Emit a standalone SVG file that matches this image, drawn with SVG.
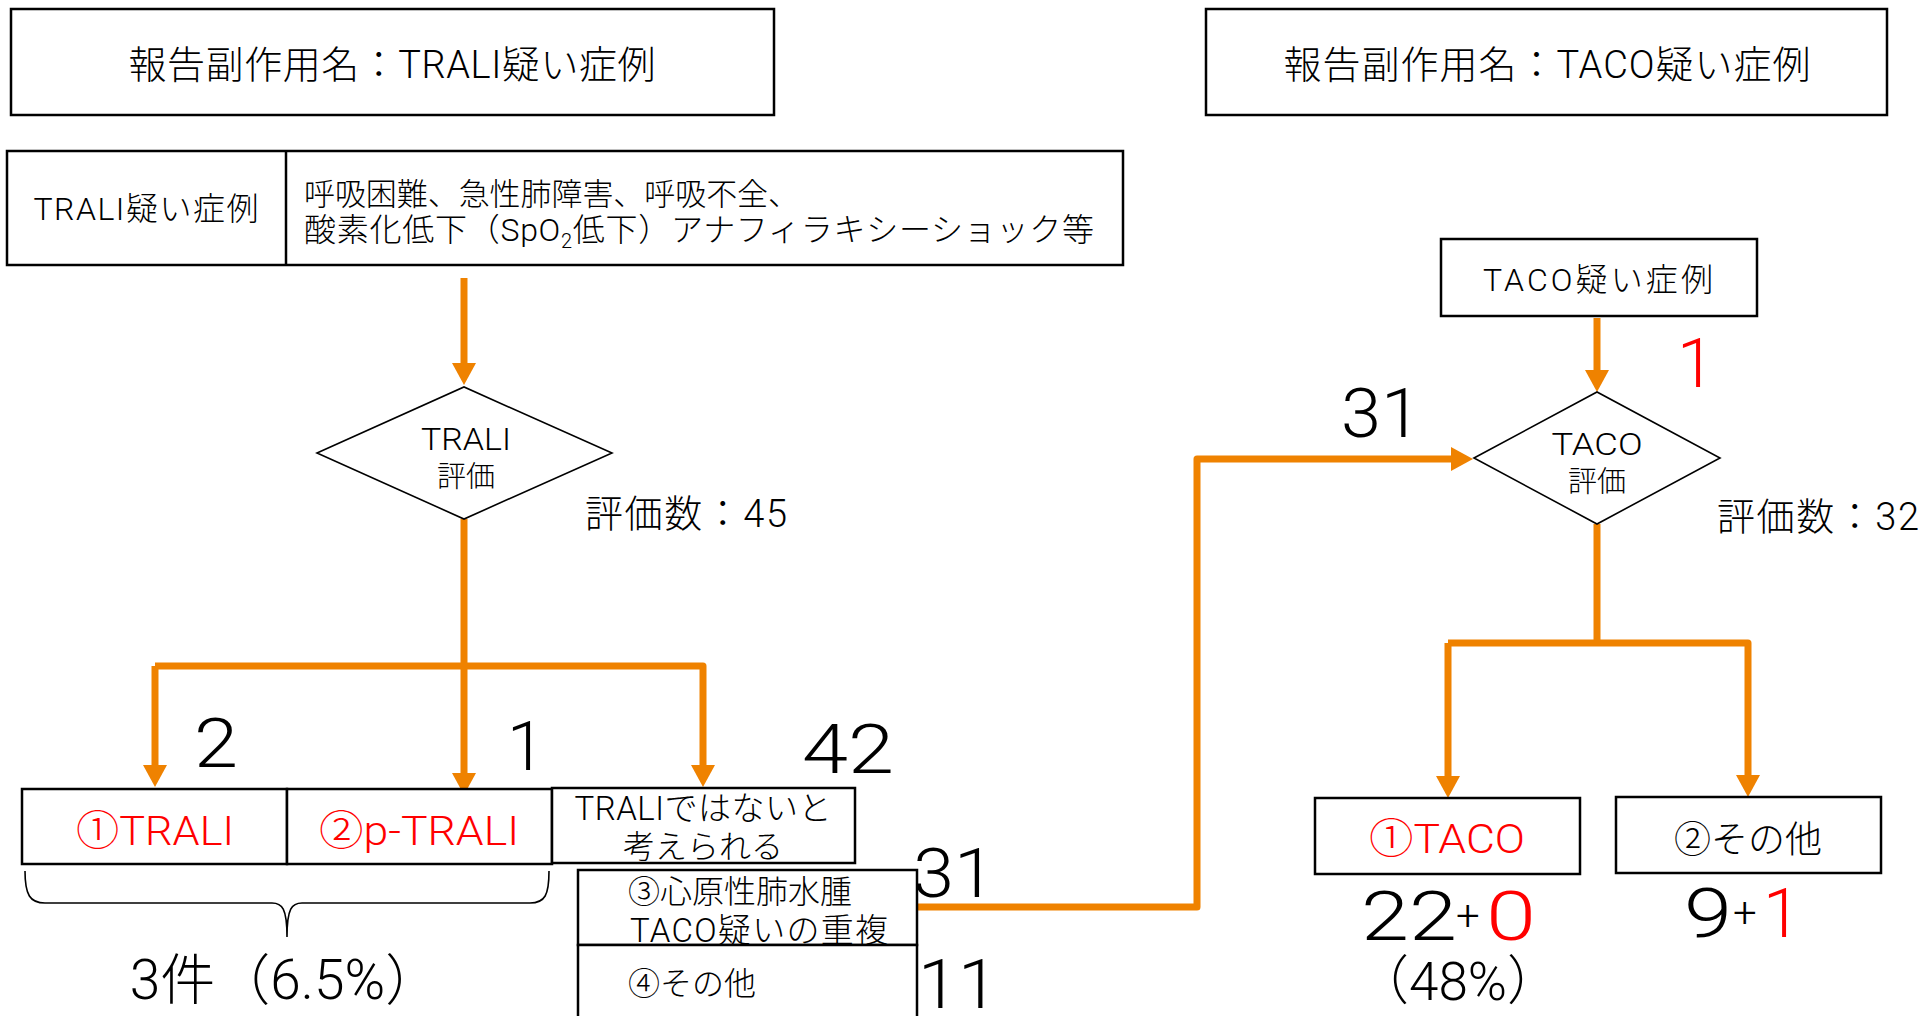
<svg xmlns="http://www.w3.org/2000/svg" width="1923" height="1016" viewBox="0 0 1923 1016">
<style>
text { font-family: "Roboto", "Noto Sans CJK JP", sans-serif; font-weight: 300; fill: #000; }
.box { fill: #fff; stroke: #000; stroke-width: 2.5; }
.dia { fill: #fff; stroke: #000; stroke-width: 1.6; }
.conn { fill: none; stroke: #EF8200; stroke-width: 7; stroke-linejoin: round; }
.red { fill: #FF0000; }
.num { font-size: 68px; }
</style>
<defs>
<marker id="ah" markerUnits="userSpaceOnUse" viewBox="0 0 22 24" refX="2" refY="12" markerWidth="22" markerHeight="24" orient="auto">
<path d="M0 0 L22 12 L0 24 Z" fill="#EF8200"/>
</marker>
</defs>
<rect width="1923" height="1016" fill="#fff"/>

<g id="connectors">
<path class="conn" d="M464 278 V365" marker-end="url(#ah)"/>
<path class="conn" d="M464 519 V775" marker-end="url(#ah)"/>
<path class="conn" d="M155 666 V767" marker-end="url(#ah)"/>
<path class="conn" d="M155 666 H703 V767" marker-end="url(#ah)"/>
<path class="conn" d="M918 907 H1197 V459 H1453" marker-end="url(#ah)"/>
<path class="conn" d="M1597 318 V372" marker-end="url(#ah)"/>
<path class="conn" d="M1597 524 V643"/>
<path class="conn" d="M1448 643 V778" marker-end="url(#ah)"/>
<path class="conn" d="M1448 643 H1748 V777" marker-end="url(#ah)"/>
</g>

<g id="title-trali">
<rect class="box" x="11" y="9" width="763" height="106"/>
<text x="392" y="78" font-size="38" text-anchor="middle" textLength="527">報告副作用名：TRALI疑い症例</text>
</g>
<g id="title-taco">
<rect class="box" x="1206" y="9" width="681" height="106"/>
<text x="1547" y="78" font-size="38" text-anchor="middle" textLength="527">報告副作用名：TACO疑い症例</text>
</g>

<g id="trali-suspect">
<rect class="box" x="7" y="151" width="1116" height="114"/>
<line x1="286" y1="151" x2="286" y2="265" stroke="#000" stroke-width="2.5"/>
<text x="146" y="220" font-size="32" text-anchor="middle" textLength="225">TRALI疑い症例</text>
<text x="304" y="205" font-size="31" textLength="495">呼吸困難、急性肺障害、呼吸不全、</text>
<text x="304" y="241" font-size="32" textLength="790">酸素化低下（SpO<tspan font-size="20" dy="7">2</tspan><tspan dy="-7">低下）アナフィラキシーショック等</tspan></text>
</g>

<g id="trali-eval">
<polygon class="dia" points="317,453 464,387 612,453 464,519"/>
<text x="466" y="450" font-size="32" text-anchor="middle" textLength="90" lengthAdjust="spacingAndGlyphs">TRALI</text>
<text x="466" y="487" font-size="29" text-anchor="middle">評価</text>
</g>
<text id="trali-count" x="585" y="527" font-size="38" textLength="202">評価数：45</text>

<g id="trali-1">
<rect class="box" x="22" y="789" width="265" height="75"/>
<text class="red" x="155" y="845" font-size="41" text-anchor="middle" textLength="158" lengthAdjust="spacingAndGlyphs">①TRALI</text>
</g>
<g id="trali-2">
<rect class="box" x="287" y="789" width="265" height="75"/>
<text class="red" x="419" y="845" font-size="41" text-anchor="middle" textLength="200" lengthAdjust="spacingAndGlyphs">②p-TRALI</text>
</g>
<g id="not-trali">
<rect class="box" x="552" y="788" width="303" height="75"/>
<text x="703" y="820" font-size="33" text-anchor="middle" textLength="257">TRALIではないと</text>
<text x="703" y="858" font-size="32" text-anchor="middle">考えられる</text>
</g>
<g id="cardiogenic">
<rect class="box" x="578" y="870" width="339" height="75"/>
<text x="628" y="903" font-size="32" textLength="224">③心原性肺水腫</text>
<text x="630" y="942" font-size="33" textLength="258">TACO疑いの重複</text>
</g>
<g id="other-trali">
<rect class="box" x="578" y="945" width="339" height="90"/>
<text x="628" y="995" font-size="32">④その他</text>
</g>

<g id="brace">
<path d="M25 871 C25 895 30 903 45 903 H272 C282 903 287 908 287 937 C287 908 292 903 302 903 H530 C545 903 549 895 549 871" fill="none" stroke="#000" stroke-width="1.6"/>
<text x="285" y="999" font-size="55" text-anchor="middle">3件（6.5%）</text>
</g>

<g id="numbers-trali">
<text class="num" x="194" y="767" textLength="44" lengthAdjust="spacingAndGlyphs">2</text>
<text class="num" x="507" y="770">1</text>
<text class="num" x="802" y="773" textLength="92" lengthAdjust="spacingAndGlyphs">42</text>
<text class="num" x="913" y="897" textLength="82" lengthAdjust="spacingAndGlyphs">31</text>
<text class="num" x="918" y="1008" textLength="80" lengthAdjust="spacingAndGlyphs">11</text>
</g>

<g id="taco-suspect">
<rect class="box" x="1441" y="239" width="316" height="77"/>
<text x="1598" y="291" font-size="32" text-anchor="middle" textLength="230">TACO疑い症例</text>
</g>
<text class="num" x="1341" y="437" textLength="80" lengthAdjust="spacingAndGlyphs">31</text>
<text class="num red" x="1677" y="387">1</text>

<g id="taco-eval">
<polygon class="dia" points="1474,458 1597,392 1720,458 1597,524"/>
<text x="1597" y="455" font-size="32" text-anchor="middle" textLength="91" lengthAdjust="spacingAndGlyphs">TACO</text>
<text x="1597" y="492" font-size="29" text-anchor="middle">評価</text>
</g>
<text id="taco-count" x="1717" y="530" font-size="38" textLength="202">評価数：32</text>

<g id="taco-1">
<rect class="box" x="1315" y="798" width="265" height="76"/>
<text class="red" x="1447" y="853" font-size="41" text-anchor="middle" textLength="156" lengthAdjust="spacingAndGlyphs">①TACO</text>
<text class="num" x="1361" y="940" textLength="96" lengthAdjust="spacingAndGlyphs">22</text>
<text x="1456" y="930" font-size="42">+</text>
<text class="num red" x="1486" y="940" textLength="50" lengthAdjust="spacingAndGlyphs">0</text>
<text x="1458" y="1000" font-size="53" text-anchor="middle">（48%）</text>
</g>
<g id="taco-2">
<rect class="box" x="1616" y="797" width="265" height="76"/>
<text x="1748" y="853" font-size="37" text-anchor="middle">②その他</text>
<text class="num" x="1684" y="937" textLength="48" lengthAdjust="spacingAndGlyphs">9</text>
<text x="1733" y="927" font-size="42">+</text>
<text class="num red" x="1763" y="937">1</text>
</g>
</svg>
